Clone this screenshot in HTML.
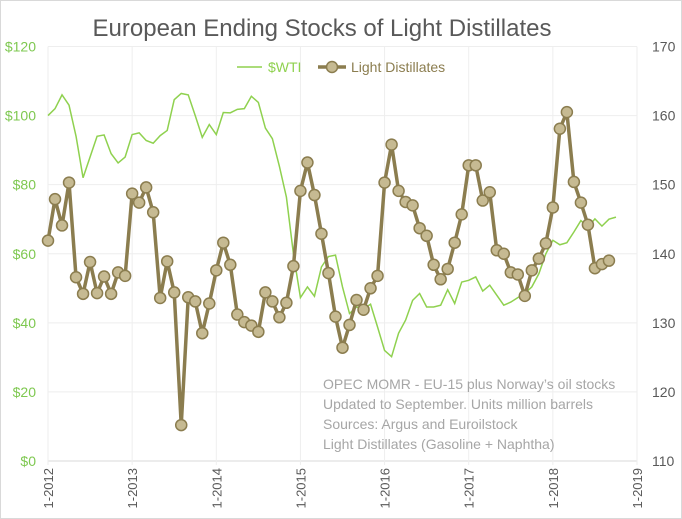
<!DOCTYPE html>
<html><head><meta charset="utf-8"><style>
body{margin:0;background:#fff;}
svg{display:block;font-family:"Liberation Sans",sans-serif;}
</style></head><body>
<svg id="c" width="682" height="519" viewBox="0 0 682 519">
<rect x="0.5" y="0.5" width="681" height="518" fill="#fff" stroke="#d9d9d9"/>
<text x="322" y="36" text-anchor="middle" font-size="24" fill="#595959">European Ending Stocks of Light Distillates</text>
<g id="grid"></g>
<g id="axes"></g>
<g id="series"></g>
<g>
<line x1="237" y1="67" x2="262" y2="67" stroke="#8fd14f" stroke-width="1.5"/>
<text x="268" y="72" font-size="14" fill="#8fd14f">$WTI</text>
<line x1="318" y1="67" x2="346" y2="67" stroke="#8b7d4f" stroke-width="3.5"/>
<circle cx="332" cy="67" r="5.5" fill="#c6ba92" stroke="#8b7d4f" stroke-width="1.5"/>
<text x="351" y="72" font-size="14" fill="#8b7d4f">Light Distillates</text>
</g>
<g font-size="14" fill="#a6a6a6">
<text x="323" y="389">OPEC MOMR - EU-15 plus Norway’s oil stocks</text>
<text x="323" y="409">Updated to September.  Units million barrels</text>
<text x="323" y="429">Sources: Argus and Euroilstock</text>
<text x="323" y="449">Light Distillates (Gasoline + Naphtha)</text>
</g>
</svg>
<script>
const yearLabels=["1-2012","1-2013","1-2014","1-2015","1-2016","1-2017","1-2018","1-2019"];
const leftTicks=[0,20,40,60,80,100,120];
const rightTicks=[110,120,130,140,150,160,170];
const lightDistillates=[141.9,147.9,144.1,150.3,136.6,134.2,138.8,134.3,136.7,134.2,137.3,136.8,
148.7,147.4,149.6,146.0,133.6,138.9,134.4,115.2,133.7,133.1,128.5,132.8,
137.6,141.6,138.4,131.2,130.1,129.6,128.7,134.4,133.1,130.8,132.9,138.2,
149.1,153.2,148.5,142.9,137.2,130.9,126.4,129.7,133.3,131.9,135.0,136.8,
150.3,155.8,149.1,147.5,147.0,143.7,142.6,138.4,136.3,137.8,141.6,145.7,
152.8,152.8,147.7,148.9,140.5,140.0,137.3,137.0,133.9,137.6,139.3,141.5,
146.7,158.1,160.5,150.4,147.4,144.2,137.9,138.5,139.0];
const wti=[100,102,106,103,94,82,88,94,94.4,89,86.3,88,
94.5,95,92.8,92,94.2,95.7,104.6,106.4,106,100,93.7,97.4,
94.5,100.9,100.8,101.8,102,105.6,103.8,96.4,93.3,85.3,76.4,60,
47.3,50.4,47.7,56.2,59.2,59.6,50.4,42.7,44.6,44,45.4,38.8,
32,30.2,37,40.8,46.5,48.5,44.6,44.6,45.1,49.6,45.6,51.8,
52.3,53.3,49.2,50.9,48,45.1,46,47.3,48.5,50.4,54.2,60,
63.9,62.6,63.2,66.3,69.6,67.7,70.1,68,70,70.6];
const NS="http://www.w3.org/2000/svg";
const X0=48,X1=637,YT=46.5,YB=461;
const xM=i=>X0+i*(X1-X0)/84;
const yL=v=>YB-(v/120)*(YB-YT);
const yR=v=>YB-((v-110)/60)*(YB-YT);
function mk(p,t,a){const e=document.createElementNS(NS,t);for(const k in a)e.setAttribute(k,a[k]);p.appendChild(e);return e;}
const grid=document.getElementById('grid'),axes=document.getElementById('axes'),ser=document.getElementById('series');
leftTicks.forEach((v,i)=>{
  const g=mk(grid,'line',{x1:X0,x2:X1,y1:yL(v),y2:yL(v),stroke:i==0?'#d9d9d9':'#eeeeee','stroke-width':1});
  
  
  const t=mk(axes,'text',{x:36,y:yL(v)+5,'text-anchor':'end','font-size':14,fill:'#7ec850'});
  t.textContent='$'+v;
  
  
});
rightTicks.forEach(v=>{
  const t=mk(axes,'text',{x:652,y:yR(v)+5,'font-size':14,fill:'#595959'});
  t.textContent=v;
  
  
});
yearLabels.forEach((s,i)=>{
  const x=xM(i*12);
  const g=mk(grid,'line',{x1:x,x2:x,y1:YT,y2:YB+4,stroke:'#eeeeee','stroke-width':1});
  
  
  const t=mk(axes,'text',{x:0,y:0,'text-anchor':'end','font-size':13,fill:'#595959',transform:`translate(${x+5},${YB+7}) rotate(-90)`});
  t.textContent=s;
  
  
});
const w=mk(ser,'polyline',{points:wti.map((v,i)=>xM(i)+','+yL(v)).join(' '),fill:'none',stroke:'#8fd14f','stroke-width':1.5});


const l=mk(ser,'polyline',{points:lightDistillates.map((v,i)=>xM(i)+','+yR(v)).join(' '),fill:'none',stroke:'#8b7d4f','stroke-width':3.5,'stroke-linejoin':'round'});


lightDistillates.forEach((v,i)=>{
  const c=mk(ser,'circle',{cx:xM(i),cy:yR(v),r:5.5,fill:'#c6ba92',stroke:'#8b7d4f','stroke-width':1.5});
  
  
});
</script>
</body></html>
